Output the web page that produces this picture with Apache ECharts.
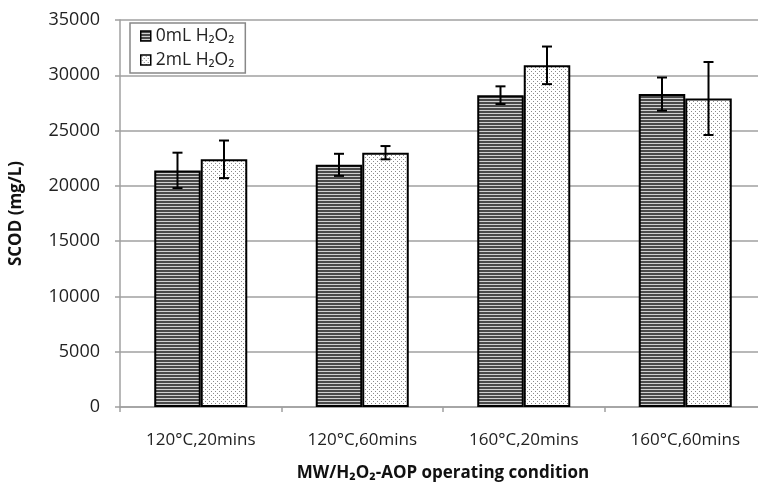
<!DOCTYPE html>
<html>
<head>
<meta charset="utf-8">
<script src="https://cdn.jsdelivr.net/npm/echarts@6/dist/echarts.min.js"></script>
<style>
html,body{margin:0;padding:0;background:#fff;}
#main{width:758px;height:484px;}
</style>
</head>
<body>
<div id="main"></div>
<script>
var categories = ['120°C,20mins', '120°C,60mins', '160°C,20mins', '160°C,60mins'];
var names = ['0mL H\u2082O\u2082', '2mL H\u2082O\u2082'];
var scod0 = [21400, 21900, 28200, 28300];
var err0 = [1600, 1000, 800, 1500];
var scod2 = [22400, 23000, 30900, 27900];
var err2 = [1700, 600, 1700, 3300];

// 横条纹
function stripePattern() {
	var c = document.createElement('canvas');
	c.width = 4; c.height = 3;
	var ctx = c.getContext('2d');
	ctx.fillStyle = '#d0d0d0';
	ctx.fillRect(0, 0, 4, 3);
	ctx.fillStyle = '#4a4a4a';
	ctx.fillRect(0, 0, 4, 2);
	return c;
}
// 点阵
function dotPattern() {
	var c = document.createElement('canvas');
	c.width = 4; c.height = 4;
	var ctx = c.getContext('2d');
	ctx.fillStyle = '#ffffff';
	ctx.fillRect(0, 0, 4, 4);
	ctx.fillStyle = '#8a8a8a';
	ctx.fillRect(1, 1, 1, 1);
	ctx.fillRect(3, 3, 1, 1);
	return c;
}

var BAR_RATIO = 0.288;

function errSeries(vals, errs, sign) {
	var d = vals.map(function (v, i) {
		return [i, v - errs[i], v + errs[i]];
	});
	return {
		type: 'custom',
		data: d,
		z: 10,
		silent: true,
		renderItem: function (params, api) {
			var i = api.value(0);
			var lo = api.coord([i, api.value(1)]);
			var hi = api.coord([i, api.value(2)]);
			var bw = api.size([1, 0])[0] * BAR_RATIO;
			var x = lo[0] + sign * bw / 2;
			var cap = 5;
			var st = { stroke: '#000', lineWidth: 2 };
			return {
				type: 'group',
				children: [
					{ type: 'line', shape: { x1: x, y1: lo[1], x2: x, y2: hi[1] }, style: st },
					{ type: 'line', shape: { x1: x - cap, y1: hi[1], x2: x + cap, y2: hi[1] }, style: st },
					{ type: 'line', shape: { x1: x - cap, y1: lo[1], x2: x + cap, y2: lo[1] }, style: st }
				]
			};
		}
	};
}

var dom = document.getElementById('main');
var myChart = echarts.init(dom, null, { renderer: 'canvas' });
var font = '"Open Sans", "DejaVu Sans", sans-serif';

var option = {
	backgroundColor: '#fff',
	animation: false,
	textStyle: { fontFamily: font },
	grid: { left: 120, top: 20, width: 646, height: 387, outerBoundsMode: 'none', containLabel: false },
	legend: {
		data: names,
		left: 130, top: 23,
		orient: 'vertical',
		icon: 'rect',
		itemWidth: 10, itemHeight: 10,
		itemGap: 6,
		padding: [4, 11, 4, 10],
		borderColor: '#888',
		borderWidth: 1.5,
		textStyle: { fontFamily: font, fontSize: 17.5, color: '#222' },
		itemStyle: { borderColor: '#000', borderWidth: 1.5 }
	},
	xAxis: {
		type: 'category',
		data: categories,
		name: 'MW/H\u2082O\u2082-AOP operating condition',
		nameLocation: 'middle',
		nameGap: 58,
		nameTextStyle: { fontFamily: font, fontSize: 17, fontWeight: 'bold', color: '#111' },
		axisLine: { lineStyle: { color: '#a0a0a0', width: 1.5 } },
		axisTick: { show: true, length: 5, lineStyle: { color: '#a0a0a0', width: 1.5 } },
		axisLabel: { fontFamily: font, fontSize: 17, color: '#222', margin: 25 }
	},
	yAxis: {
		type: 'value',
		min: 0, max: 35000, interval: 5000,
		name: 'SCOD (mg/L)',
		nameLocation: 'middle',
		nameGap: 95,
		nameTextStyle: { fontFamily: font, fontSize: 17, fontWeight: 'bold', color: '#111' },
		axisLine: { show: true, lineStyle: { color: '#a0a0a0', width: 1.5 } },
		axisTick: { show: true, length: 5, lineStyle: { color: '#a0a0a0', width: 1.5 } },
		axisLabel: { fontFamily: font, fontSize: 18, color: '#222', margin: 20, formatter: function (v) { return String(v); } },
		splitLine: { lineStyle: { color: '#a0a0a0', width: 1.5 } }
	},
	series: [
		{
			name: names[0],
			type: 'bar',
			data: scod0,
			barWidth: (BAR_RATIO * 100) + '%',
			barGap: '0%',
			itemStyle: {
				color: { image: stripePattern(), repeat: 'repeat' },
				borderColor: '#000', borderWidth: 2
			}
		},
		{
			name: names[1],
			type: 'bar',
			data: scod2,
			barWidth: (BAR_RATIO * 100) + '%',
			barGap: '0%',
			itemStyle: {
				color: { image: dotPattern(), repeat: 'repeat' },
				borderColor: '#000', borderWidth: 2
			}
		},
		errSeries(scod0, err0, -1),
		errSeries(scod2, err2, 1)
	]
};

myChart.setOption(option, true);
</script>
</body>
</html>
